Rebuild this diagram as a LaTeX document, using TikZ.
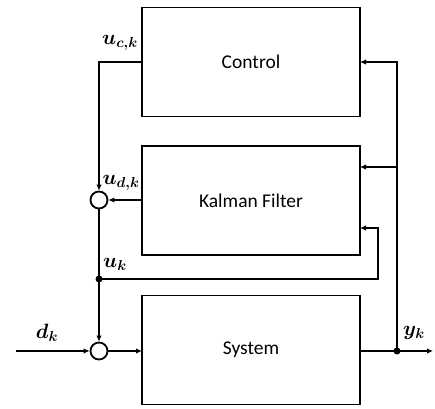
\documentclass[tikz,border=0pt]{standalone}
\usepackage{fontspec}
\usepackage{amsmath,bm}
\setmainfont{Carlito}
\usetikzlibrary{arrows.meta}
\begin{document}
\begin{tikzpicture}[x=1pt,y=-1pt,
  blk/.style={draw,line width=1.8pt,minimum width=218pt,minimum height=109pt,inner sep=0pt,font=\fontsize{19.5}{22}\selectfont},
  sum/.style={draw,circle,line width=1.8pt,minimum size=17pt,inner sep=0pt},
  wire/.style={line width=1.8pt},
  arr/.style={line width=1.8pt,-{Latex[length=6pt,width=5.5pt]}},
  dot/.style={circle,fill,minimum size=7pt,inner sep=0pt},
  lbl/.style={font=\fontsize{22}{24}\selectfont,inner sep=0pt}]
\useasboundingbox (0,0) rectangle (435,408);
\node[blk] (ctrl) at (251,62) {Control};
\node[blk] (kf) at (251,200.5) {Kalman Filter};
\node[blk] (sys) at (251,350) {System};
\node[sum] (s1) at (99,200) {};
\node[sum] (s2) at (99,351) {};
\node[dot] (uk) at (99,279) {};
\node[dot] (yk) at (397,351) {};
\coordinate (din) at (16,351);
\coordinate (yout) at (433,351);
\coordinate (uc) at (142,62);
\coordinate (ud) at (142,200);
\coordinate (ctrlin) at (360,62);
\coordinate (kfin1) at (360,167);
\coordinate (kfin2) at (360,228);
\coordinate (sysin) at (142,351);
\coordinate (sysout) at (360,351);
% control output to sum 1
\draw[arr] (uc) -| (s1.north);
% kalman output to sum 1
\draw[arr] (ud) -- (s1.east);
% sum1 down to uk dot, then to sum2
\draw[wire] (s1.south) -- (uk.center);
\draw[arr] (uk.center) -- (s2.north);
% uk to kalman
\draw[arr] (uk.center) -- (378,279) |- (kfin2);
% input d
\draw[arr] (din) -- (s2.west);
\draw[arr] (s2.east) -- (sysin);
% output
\draw[wire] (sysout) -- (yk.center);
\draw[arr] (yk.center) -- (yout);
\draw[arr] (yk.center) -- (397,62) -- (ctrlin);
\draw[arr] (397,167) -- (kfin1);
% labels
\node[lbl] (luc) at (120,43) {$\bm{u_{c,k}}$};
\node[lbl] (lud) at (121,183) {$\bm{u_{d,k}}$};
\node[lbl] (luk) at (115,264) {$\bm{u_{k}}$};
\node[lbl] (ldk) at (47,333) {$\bm{d_{k}}$};
\node[lbl] (lyk) at (414,333) {$\bm{y_{k}}$};
\end{tikzpicture}
\end{document}
